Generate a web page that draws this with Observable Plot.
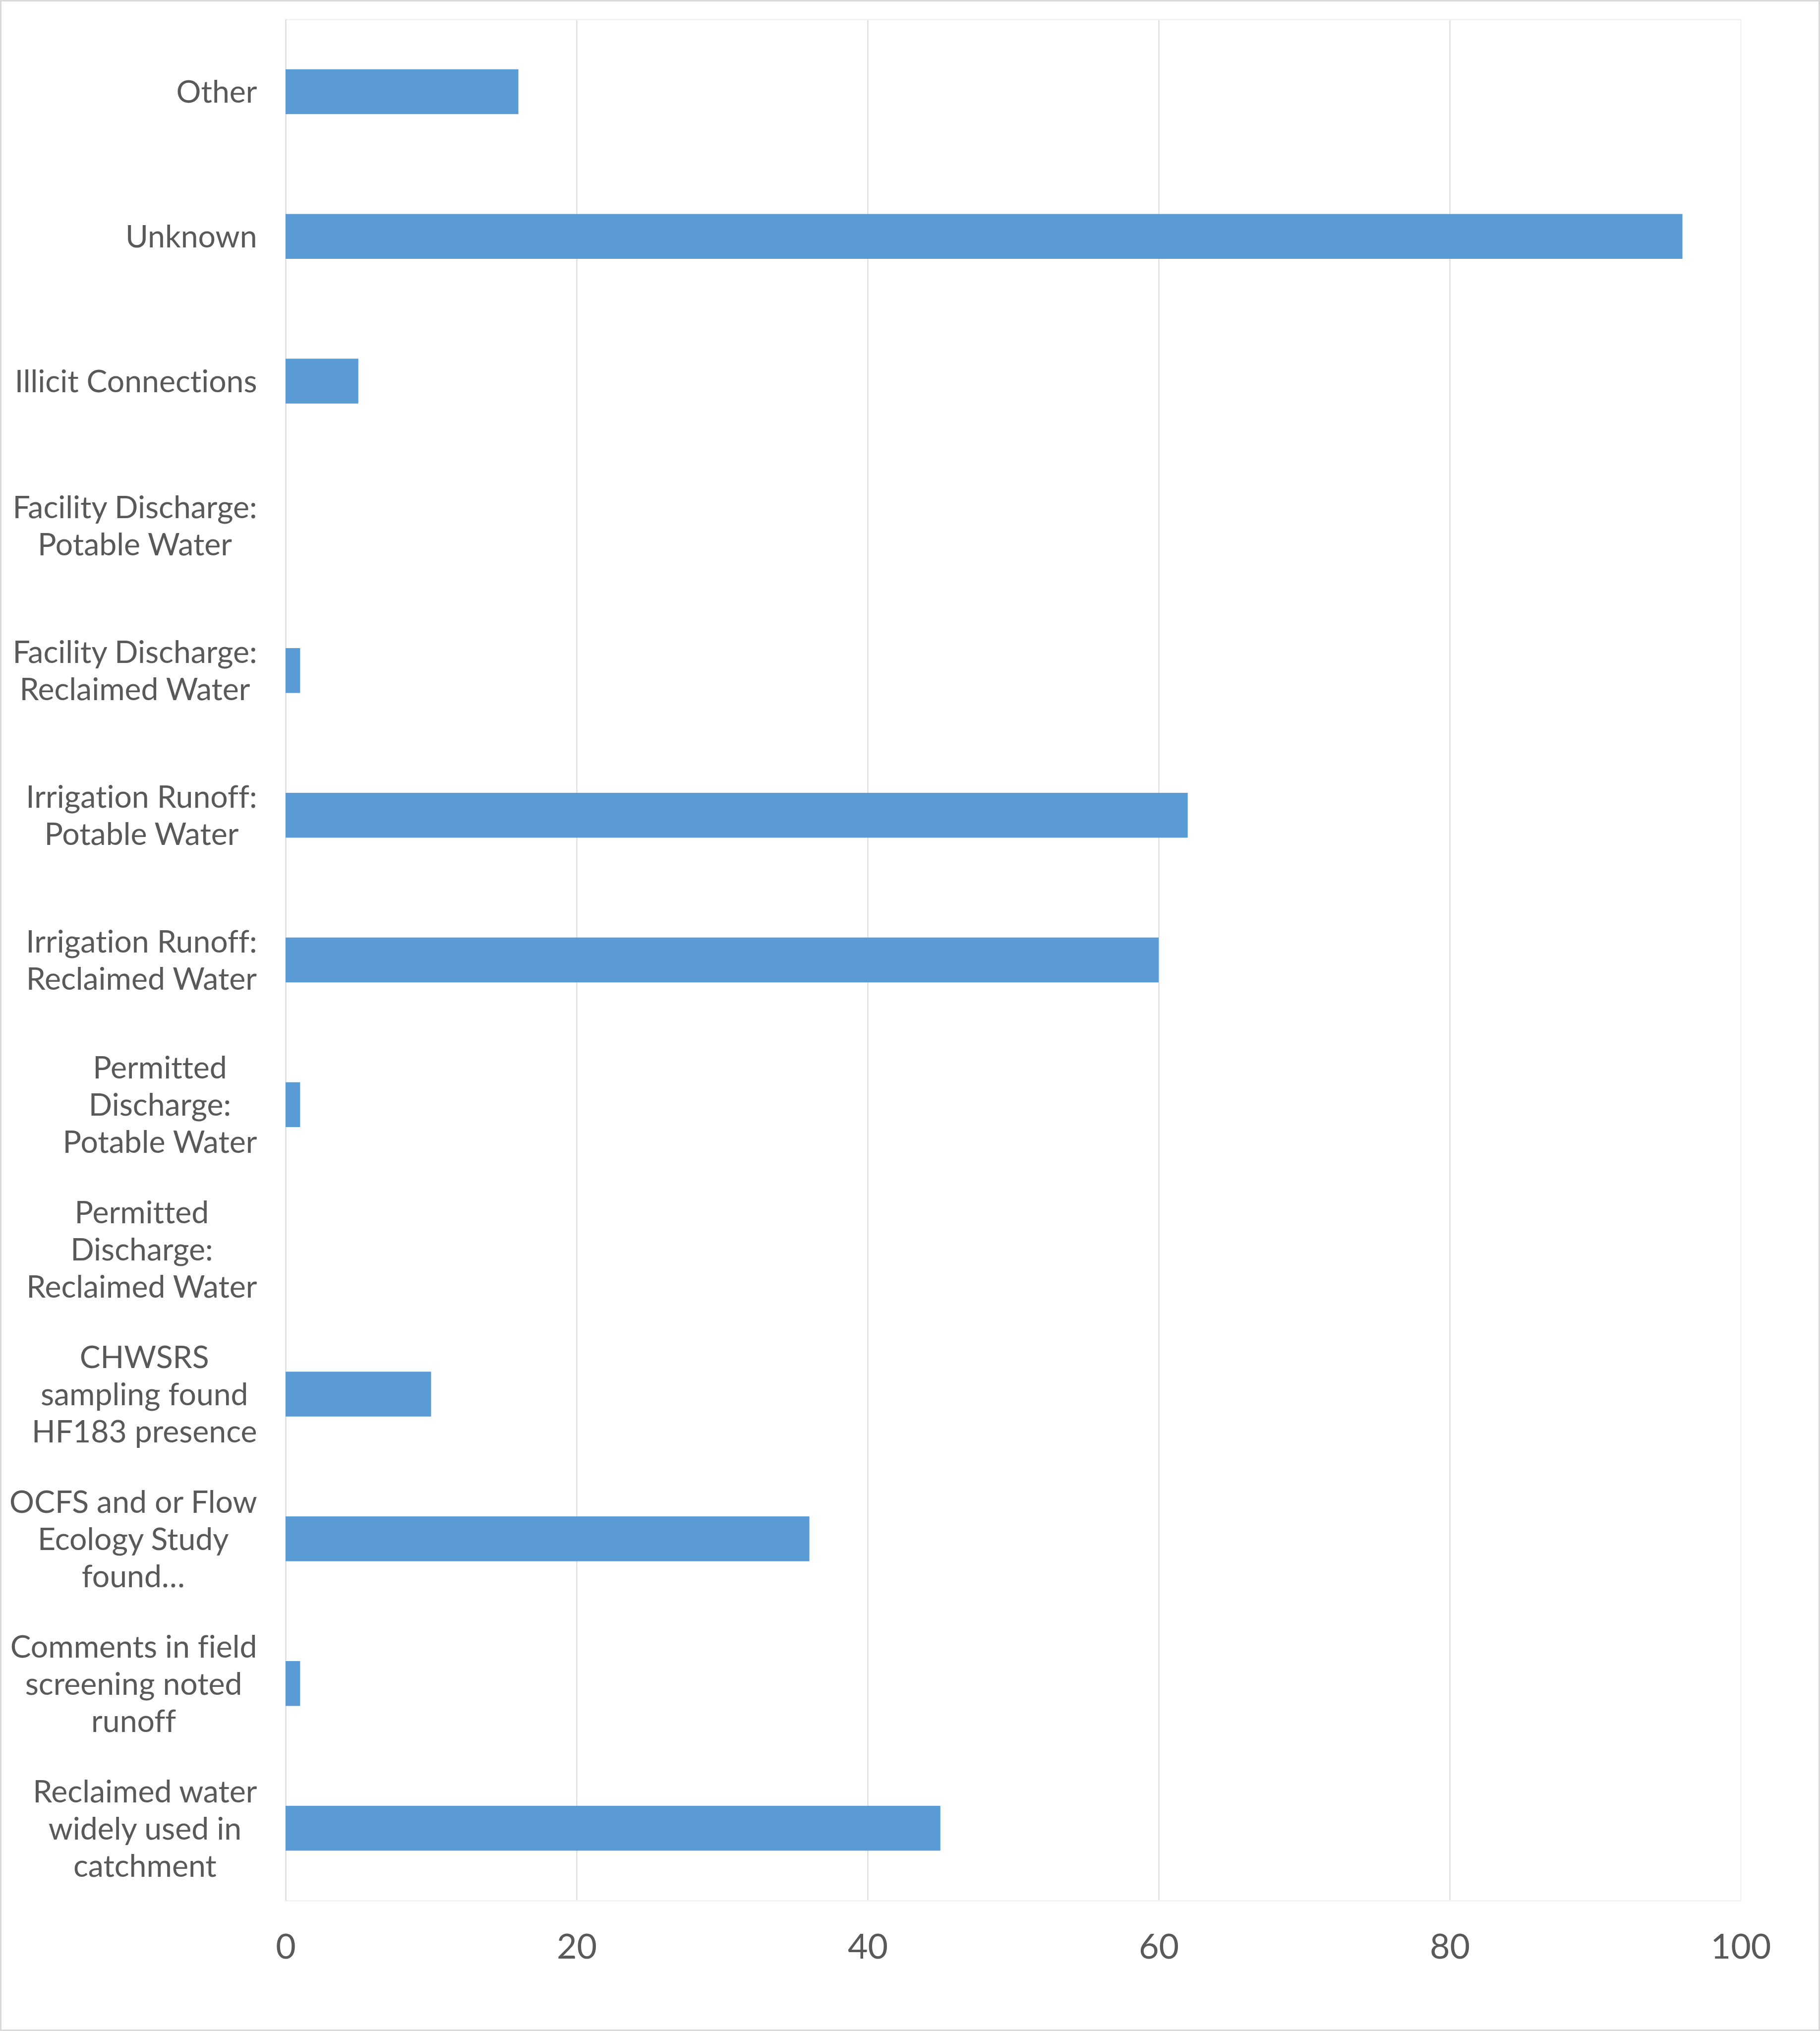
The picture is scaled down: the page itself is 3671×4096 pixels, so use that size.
<!DOCTYPE html>
<html>
<head>
<meta charset="utf-8">
<script src="https://cdn.jsdelivr.net/npm/d3@7"></script>
<script src="https://cdn.jsdelivr.net/npm/@observablehq/plot@0.6"></script>
<style>
  html, body { margin: 0; padding: 0; background: #ffffff; }
  #wrap { position: relative; width: 3671px; height: 4096px; overflow: hidden; background: #ffffff; }
  #border { position: absolute; left: 0; top: 0; right: 0; bottom: 0; border: 3px solid #D9D9D9; box-sizing: border-box; pointer-events: none; }
  svg text { font-variant-ligatures: none; font-feature-settings: "liga" 0, "clig" 0, "dlig" 0; }
</style>
</head>
<body>
<div id="wrap"><div id="chart"></div><div id="border"></div></div>
<script>
// ---- data (top to bottom) ----
const categories = [
  "Other",
  "Unknown",
  "Illicit Connections",
  "Facility Discharge:\nPotable Water",
  "Facility Discharge:\nReclaimed Water",
  "Irrigation Runoff:\nPotable Water",
  "Irrigation Runoff:\nReclaimed Water",
  "Permitted\nDischarge:\nPotable Water",
  "Permitted\nDischarge:\nReclaimed Water",
  "CHWSRS\nsampling found\nHF183 presence",
  "OCFS and or Flow\nEcology Study\nfound…",
  "Comments in field\nscreening noted\nrunoff",
  "Reclaimed water\nwidely used in\ncatchment"
];
const values = [16, 96, 5, 0, 1, 62, 60, 1, 0, 10, 36, 1, 45];
const xTicks = [0, 20, 40, 60, 80, 100];
const gridTicks = [20, 40, 60, 80];

const rows = categories.map((c, i) => ({category: c, value: values[i]}));

const chart = Plot.plot({
  width: 3671,
  height: 4096,
  marginLeft: 576,
  marginRight: 160,
  marginTop: 39,
  marginBottom: 263,
  style: {fontFamily: "Lato, 'Open Sans', sans-serif", color: "#595959", background: "#ffffff"},
  x: {domain: [0, 100], axis: null},
  y: {domain: categories, paddingInner: 0.69, paddingOuter: 0.345, round: false, axis: null},
  marks: [
    Plot.gridX(gridTicks, {stroke: "#D9D9D9", strokeOpacity: 1, strokeWidth: 2}),
    Plot.frame({stroke: "#F2F2F2", strokeWidth: 2.7}),
    Plot.ruleX([0], {stroke: "#D9D9D9", strokeWidth: 2}),
    Plot.barX(rows, {x: "value", y: "category", fill: "#5B9BD5"}),
    Plot.axisX(xTicks, {tickSize: 0, tickPadding: 67, fontSize: 70, fill: "#595959", label: null}),
    Plot.axisY({tickSize: 0, tickPadding: 58, dy: -2, fontSize: 62.5, lineHeight: 1.2, fill: "#595959", label: null})
  ]
});

document.getElementById("chart").append(chart);

// centre the lines of multi-line category labels within their block (right-aligned block)
chart.querySelectorAll('g[aria-label="y-axis tick label"] text').forEach(t => {
  const spans = Array.from(t.querySelectorAll("tspan"));
  if (spans.length < 2) return;
  const widths = spans.map(s => s.getComputedTextLength());
  const maxW = Math.max(...widths);
  spans.forEach((s, i) => s.setAttribute("x", -(maxW - widths[i]) / 2));
});
</script>
</body>
</html>
